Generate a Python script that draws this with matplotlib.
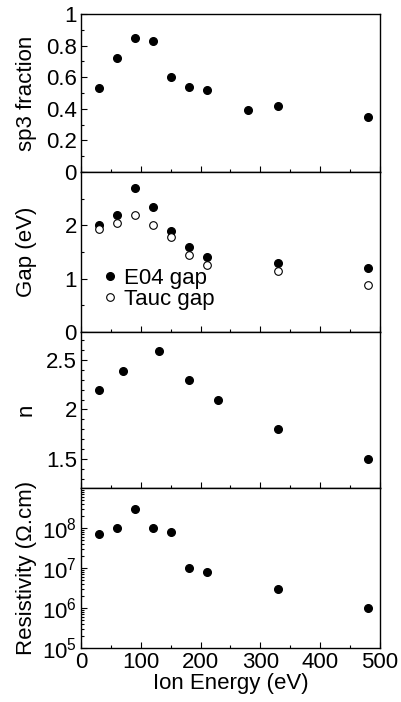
import matplotlib
matplotlib.use('Agg')
import matplotlib.pyplot as plt
from matplotlib.ticker import MultipleLocator, LogLocator, NullFormatter, FuncFormatter

plt.rcParams['font.family'] = ['Liberation Sans', 'DejaVu Sans']
plt.rcParams['mathtext.fontset'] = 'custom'
plt.rcParams['mathtext.rm'] = 'Liberation Sans'
plt.rcParams['mathtext.it'] = 'Liberation Sans'

# sp3 fraction
sp3_energy = [30, 60, 90, 120, 150, 180, 210, 280, 330, 480]
sp3_frac = [0.53, 0.72, 0.85, 0.83, 0.60, 0.54, 0.52, 0.39, 0.42, 0.35]

# optical gaps
gap_energy = [30, 60, 90, 120, 150, 180, 210, 330, 480]
e04_gap = [2.0, 2.2, 2.7, 2.35, 1.89, 1.6, 1.4, 1.29, 1.2]
tauc_gap = [1.94, 2.04, 2.2, 2.0, 1.78, 1.44, 1.25, 1.15, 0.89]
gap_ticks = [0, 1, 2]

# refractive index
n_energy = [30, 70, 130, 180, 230, 330, 480]
n_vals = [2.2, 2.39, 2.59, 2.3, 2.1, 1.8, 1.5]
n_ticks = [1.5, 2, 2.5]

# resistivity
res_energy = [30, 60, 90, 120, 150, 180, 210, 330, 480]
res_vals = [6.9e7, 1.0e8, 3.0e8, 1.0e8, 8.1e7, 1.0e7, 8.0e6, 3.0e6, 1.0e6]
res_ticks = [1e5, 1e6, 1e7, 1e8]
res_labels = [r'$10^5$', r'$10^6$', r'$10^7$', r'$10^8$']

fig = plt.figure(figsize=(4.02, 7.02), dpi=100)
left, width = 0.2015, 0.7435
bounds = [(0.755, 0.225), (0.527, 0.228), (0.305, 0.222), (0.077, 0.228)]
axes = [fig.add_axes([left, b, width, h]) for b, h in bounds]
ax1, ax2, ax3, ax4 = axes

ms = 5.5
fs = 16
gfmt = FuncFormatter(lambda v, p: '%g' % v)

ax1.plot(sp3_energy, sp3_frac, 'o', color='black', ms=ms)
ax1.set_ylim(0, 1)
ax1.yaxis.set_major_locator(MultipleLocator(0.2))
ax1.yaxis.set_minor_locator(MultipleLocator(0.1))
ax1.yaxis.set_major_formatter(gfmt)
ax1.set_ylabel('sp3 fraction', fontsize=fs)

ax2.plot(gap_energy, e04_gap, 'o', color='black', ms=ms, label='E04 gap')
ax2.plot(gap_energy, tauc_gap, 'o', mfc='white', mec='black', mew=0.8, ms=ms, label='Tauc gap')
ax2.set_ylim(0, 3)
ax2.set_yticks(gap_ticks)
ax2.yaxis.set_minor_locator(MultipleLocator(0.5))
ax2.yaxis.set_major_formatter(gfmt)
ax2.set_ylabel('Gap (eV)', fontsize=fs)
ax2.legend(loc='lower left', bbox_to_anchor=(0.0, 0.04), frameon=False, fontsize=fs,
           handletextpad=0.05, labelspacing=0.0, handlelength=1.2, borderaxespad=0.3)

ax3.plot(n_energy, n_vals, 'o', color='black', ms=ms)
ax3.set_ylim(1.21, 2.78)
ax3.set_yticks(n_ticks)
ax3.yaxis.set_minor_locator(MultipleLocator(0.1))
ax3.yaxis.set_major_formatter(gfmt)
ax3.set_ylabel('n', fontsize=fs)

ax4.plot(res_energy, res_vals, 'o', color='black', ms=ms)
ax4.set_yscale('log')
ax4.set_ylim(1e5, 1e9)
ax4.set_yticks(res_ticks)
ax4.set_yticklabels(res_labels)
ax4.yaxis.set_minor_locator(LogLocator(base=10, subs=range(2, 10), numticks=20))
ax4.yaxis.set_minor_formatter(NullFormatter())
ax4.set_ylabel('Resistivity (Ω.cm)', fontsize=fs)
ax4.set_xlabel('Ion Energy (eV)', fontsize=fs, labelpad=0)

for ax in axes:
    ax.set_xlim(0, 500)
    ax.xaxis.set_major_locator(MultipleLocator(100))
    ax.xaxis.set_minor_locator(MultipleLocator(50))
    ax.tick_params(axis='both', which='both', direction='in', top=False, right=False,
                   labelsize=fs, pad=3)
    ax.tick_params(which='major', length=4, width=0.8)
    ax.tick_params(which='minor', length=2.5, width=0.8)
    for sp in ax.spines.values():
        sp.set_linewidth(1.0)
    ax.yaxis.set_label_coords(-0.148, 0.5)
    if ax is not ax4:
        ax.tick_params(axis='x', labelbottom=False)

fig.savefig('out.png', dpi=100)
